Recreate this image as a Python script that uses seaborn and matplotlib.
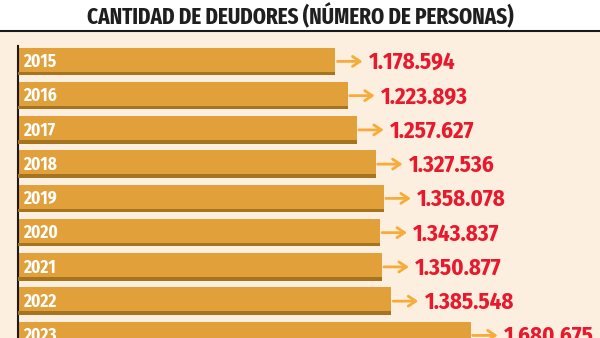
import matplotlib
matplotlib.use("Agg")
import matplotlib.pyplot as plt
import seaborn as sns
import pandas as pd
import numpy as np
from matplotlib.patches import Rectangle

years = ["2015", "2016", "2017", "2018", "2019", "2020", "2021", "2022", "2023"]
deudores = [1178594, 1223893, 1257627, 1327536, 1358078, 1343837, 1350877, 1385548, 1680675]
value_labels = ["1.178.594", "1.223.893", "1.257.627", "1.327.536", "1.358.078",
                "1.343.837", "1.350.877", "1.385.548", "1.680.675"]
title = "CANTIDAD DE DEUDORES (NÚMERO DE PERSONAS)"

sns.set_theme(style="white")
COND = ["Fira Sans Condensed", "Barlow Condensed", "DejaVu Sans"]
XCOND = ["Fira Sans Extra Condensed", "Barlow Condensed", "Fira Sans Condensed", "DejaVu Sans"]
plt.rcParams['font.family'] = COND

BAR = "#E2A03B"
SHADOW = "#A6731F"
ARROW = "#F7AC3A"
RED = "#E8192C"
CREAM = "#FDEFDF"

fig = plt.figure(figsize=(6, 3.38), dpi=100)
fig.patch.set_facecolor("white")
fig.patches.append(Rectangle((0, 0), 1, (338 - 32) / 338, transform=fig.transFigure,
                             facecolor=CREAM, edgecolor="none", zorder=-10))
fig.add_artist(plt.Line2D([0, 1], [1 - 31 / 338, 1 - 31 / 338], transform=fig.transFigure,
                          color="#1a1a1a", lw=1.5))
fig.text(0.5, 1 - 16.5 / 338, title, ha="center", va="center",
         fontsize=16.5, fontweight="bold", color="#1f1f1f", family=XCOND)

ax = fig.add_axes([18 / 600, 0, 582 / 600, 1 - 45.5 / 338])
ax.set_facecolor("none")

df = pd.DataFrame({"year": years, "deudores": deudores})
sns.barplot(data=df, x="deudores", y="year", orient="h", color=BAR, saturation=1,
            width=0.8, ax=ax, zorder=2, linewidth=0, edgecolor="none")

pos = np.arange(len(years))
ax.barh(pos + 0.35, deudores, height=0.1, color=SHADOW, linewidth=0, zorder=3)

for i, (v, lab, yr) in enumerate(zip(deudores, value_labels, years)):
    ax.annotate(yr, xy=(0, i), xytext=(3.5, -0.5), textcoords="offset points",
                ha="left", va="center", color="white", fontsize=12.5, fontweight="bold",
                family=COND, zorder=4)
    ax.annotate("", xy=(v, i), xytext=(19.5, 0), textcoords="offset points",
                arrowprops=dict(arrowstyle="<-, head_length=0.45, head_width=0.3",
                                color=ARROW, lw=2, shrinkA=0, shrinkB=1.5), zorder=4)
    ax.annotate(lab, xy=(v, i), xytext=(24, 1), textcoords="offset points",
                ha="left", va="center_baseline", color=RED, fontsize=16.5,
                fontweight="bold", family=COND, zorder=4)

ax.set_xlim(0, 582 / 2.693e-4)
ax.set_ylim(8.076, -0.464)
ax.set_xlabel("")
ax.set_ylabel("")
ax.set_xticks([])
ax.set_yticks([])
for s in ["top", "right", "bottom"]:
    ax.spines[s].set_visible(False)
ax.spines["left"].set_color("#1a1a1a")
ax.spines["left"].set_linewidth(1.5)

fig.savefig("out.png", dpi=100)
